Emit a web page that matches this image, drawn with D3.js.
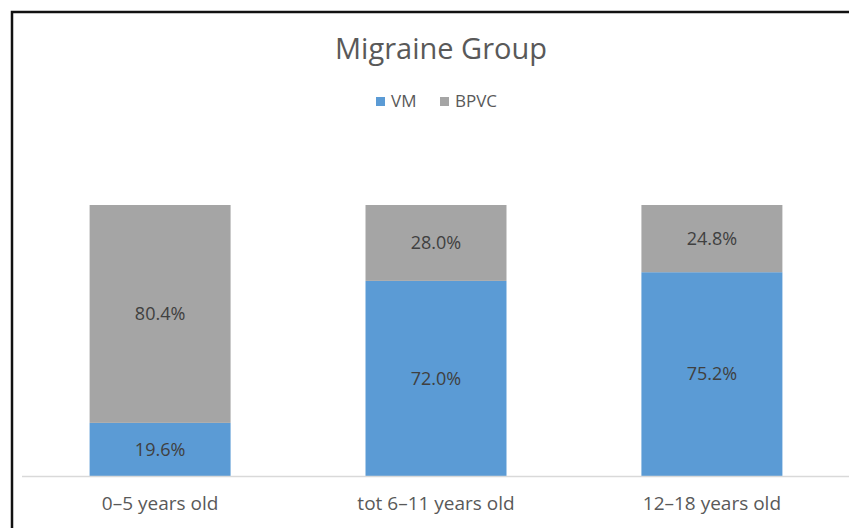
<!DOCTYPE html>
<html>
<head>
<meta charset="utf-8">
<script src="https://cdnjs.cloudflare.com/ajax/libs/d3/7.8.5/d3.min.js"></script>
<style>
  body { margin: 0; background: #fff; }
  svg text { font-family: "Open Sans", sans-serif; }
</style>
</head>
<body>
<svg id="chart"></svg>
<script>
// data
var categories = ["0\u20135 years old", "tot 6\u201311 years old", "12\u201318 years old"]
var seriesNames = ["VM", "BPVC"]
var vmValues = [19.6, 72.0, 75.2]
var bpvcValues = [80.4, 28.0, 24.8]
var colors = ["#5b9bd5", "#a5a5a5"]

var width = 849, height = 528

var svg = d3.select("#chart")
  .attr("width", width)
  .attr("height", height)

// frame of the chart, runs off the right and bottom edges
svg.append("rect")
  .attr("x", 12)
  .attr("y", 12)
  .attr("width", width)
  .attr("height", height)
  .attr("fill", "white")
  .attr("stroke", "#111")
  .attr("stroke-width", 2.5)

var x = d3.scaleBand()
  .domain(categories)
  .range([22, 850])
  .paddingInner(0.489)
  .paddingOuter(0.245)

var y = d3.scaleLinear()
  .domain([0, 100])
  .range([476, 205])

// stack the two series
var rows = categories.map(function (c, i) {
  return { cat: c, VM: vmValues[i], BPVC: bpvcValues[i] }
})
var stacked = d3.stack().keys(seriesNames)(rows)

var layers = svg.selectAll("g.layer")
  .data(stacked)
  .enter()
  .append("g")
  .attr("class", "layer")
  .attr("fill", function (d, i) { return colors[i] })

layers.selectAll("rect")
  .data(function (d) { return d })
  .enter()
  .append("rect")
  .attr("x", function (d) { return x(d.data.cat) })
  .attr("width", x.bandwidth())
  .attr("y", function (d) { return y(d[1]) })
  .attr("height", function (d) { return y(d[0]) - y(d[1]) })

// value labels in the middle of each segment
layers.selectAll("text")
  .data(function (d) { return d.map(function (s) { return { s: s, key: d.key } }) })
  .enter()
  .append("text")
  .attr("x", function (d) { return x(d.s.data.cat) + x.bandwidth() / 2 })
  .attr("y", function (d) { return (y(d.s[0]) + y(d.s[1])) / 2 })
  .attr("dy", "0.35em")
  .attr("text-anchor", "middle")
  .attr("fill", "#404040")
  .style("font-size", "18px")
  .text(function (d) { return d.s.data[d.key].toFixed(1) + "%" })

// x axis
var xAxis = svg.append("g")
  .attr("transform", "translate(0,476)")
  .call(d3.axisBottom(x).tickSize(0).tickPadding(21))
xAxis.select(".domain")
  .attr("d", "M22,0.5H849")
  .attr("stroke", "#d9d9d9")
  .attr("stroke-width", 1.5)
xAxis.selectAll("text")
  .attr("fill", "#595959")
  .style("font-size", "19px")

// title
svg.append("text")
  .attr("x", 441)
  .attr("y", 59)
  .attr("text-anchor", "middle")
  .attr("fill", "#595959")
  .style("font-size", "29px")
  .text("Migraine Group")

// legend
var legendX = [376, 440]
var legend = svg.selectAll("g.legend")
  .data(seriesNames)
  .enter()
  .append("g")
  .attr("class", "legend")
  .attr("transform", function (d, i) { return "translate(" + legendX[i] + ",97)" })
legend.append("rect")
  .attr("width", 9)
  .attr("height", 9)
  .attr("fill", function (d, i) { return colors[i] })
legend.append("text")
  .attr("x", 15)
  .attr("y", 10)
  .attr("fill", "#595959")
  .style("font-size", "17px")
  .text(function (d) { return d })
</script>
</body>
</html>
